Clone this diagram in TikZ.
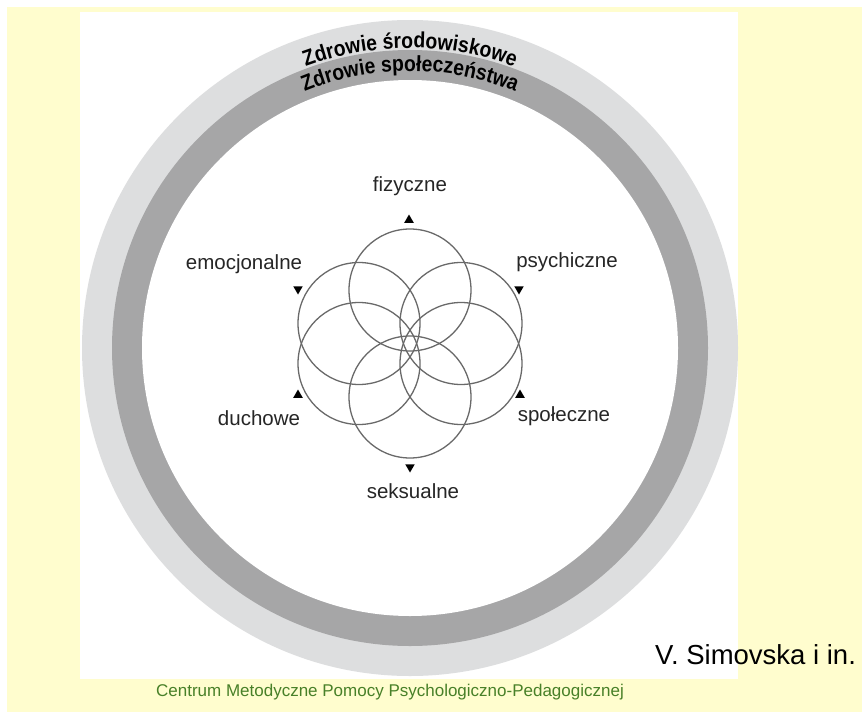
\documentclass[tikz,border=0pt]{standalone}
\usepackage{fontspec}
\setmainfont{Liberation Sans}
\newfontfamily\ringfont[FakeStretch=0.88]{Liberation Sans}
\usetikzlibrary{shapes.geometric,decorations.text}
\definecolor{bgyellow}{RGB}{255,253,206}
\definecolor{ringlight}{RGB}{221,222,223}
\definecolor{ringdark}{RGB}{166,166,167}
\definecolor{petal}{RGB}{105,105,105}
\definecolor{footgreen}{RGB}{72,128,40}
\tikzset{
  petalcirc/.style={draw=petal, line width=1.3pt},
  lbl/.style={font=\fontsize{20.5}{22}\selectfont, text=black!85, inner sep=0pt},
  triup/.style={regular polygon, regular polygon sides=3, fill=black, draw=none, minimum size=11pt, inner sep=0pt},
  tridown/.style={triup, shape border rotate=180},
}
\begin{document}
\begin{tikzpicture}[x=1pt,y=1pt]
\useasboundingbox (0,0) rectangle (862,-712);
% backgrounds
\fill[white] (0,0) rectangle (862,-712);
\fill[bgyellow] (7,-7) rectangle (862,-712);
\fill[white] (80,-12) rectangle (738,-679);
% rings
\coordinate (C) at (410,-348);
\fill[ringlight] (C) circle[radius=328];
\fill[ringdark] (C) circle[radius=298];
\fill[white] (C) circle[radius=268];
% ring texts
\path[decorate, decoration={text along path, text align=center,
  text={|\ringfont\bfseries\fontsize{22}{22}\selectfont|Zdrowie środowiskowe}}]
  (C) ++(120:300) arc[start angle=120, end angle=60, radius=300];
\path[decorate, decoration={text along path, text align=center,
  text={|\ringfont\bfseries\fontsize{22}{22}\selectfont|Zdrowie społeczeństwa}}]
  (C) ++(120:277) arc[start angle=120, end angle=60, radius=277];
% petals
\coordinate (F) at (410,-343.5);
\draw[petalcirc] (410,-290) circle[radius=61];
\draw[petalcirc] (410,-397) circle[radius=61];
\draw[petalcirc] (359,-323.5) circle[radius=61];
\draw[petalcirc] (359,-363.5) circle[radius=61];
\draw[petalcirc] (461,-323.5) circle[radius=61];
\draw[petalcirc] (461,-363.5) circle[radius=61];
% triangles
\node[triup] (tf) at (409,-220) {};
\node[tridown] (te) at (298,-289) {};
\node[tridown] (tp) at (519,-289) {};
\node[triup] (td) at (298,-395) {};
\node[triup] (ts) at (520,-395) {};
\node[tridown] (tk) at (410,-467) {};
% labels
\node[lbl] (fiz) at (410,-186) {fizyczne};
\node[lbl] (emo) at (244,-264) {emocjonalne};
\node[lbl] (psy) at (567,-262) {psychiczne};
\node[lbl] (duc) at (259,-418) {duchowe};
\node[lbl] (spo) at (564,-416) {społeczne};
\node[lbl] (sek) at (413,-491) {seksualne};
% author
\node[font=\fontsize{27.5}{30}\selectfont, inner sep=0pt, anchor=west] (auth) at (655,-655) {V. Simovska i in.};
% footer
\node[font=\fontsize{17}{19}\selectfont, text=footgreen, inner sep=0pt] (foot) at (390,-692) {Centrum Metodyczne Pomocy Psychologiczno-Pedagogicznej};
\end{tikzpicture}
\end{document}
